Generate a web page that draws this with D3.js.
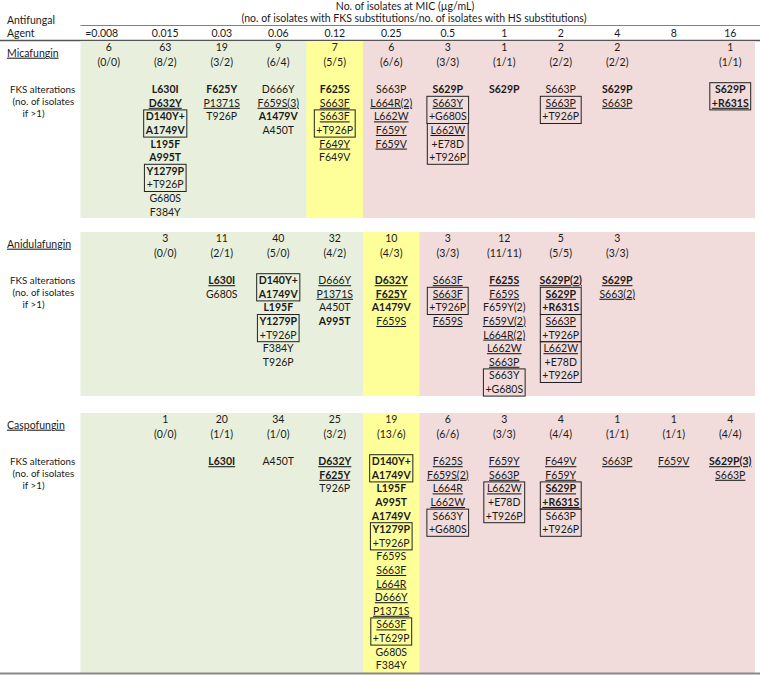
<!DOCTYPE html>
<html><head><meta charset="utf-8">
<script src="https://cdn.jsdelivr.net/npm/d3@7"></script>
<style>
body{margin:0;background:#fff;}
svg{display:block;font-family:Lato,"Open Sans",sans-serif;}
</style></head><body><svg id="c" width="760" height="675"></svg>
<script>
// ---------- data ----------
const micLabels = ["=0.008","0.015","0.03","0.06","0.12","0.25","0.5","1","2","4","8","16"];
const agents = ["Micafungin","Anidulafungin","Caspofungin"];
const intermediateMIC = ["0.12","0.25","0.25"];

const micafunginCounts = [6,63,19,9,7,6,3,1,2,2,null,1];
const micafunginRatios = ["0/0","8/2","3/2","6/4","5/5","6/6","3/3","1/1","2/2","2/2",null,"1/1"];
const anidulafunginCounts = [null,3,11,40,32,10,3,12,5,3,null,null];
const anidulafunginRatios = [null,"0/0","2/1","5/0","4/2","4/3","3/3","11/11","5/5","3/3",null,null];
const caspofunginCounts = [null,1,20,34,25,19,6,3,4,1,1,4];
const caspofunginRatios = [null,"0/0","1/1","1/0","3/2","13/6","6/6","3/3","4/4","1/1","1/1","4/4"];

// markers: "^" = bold, "_" = underlined ; nested array = boxed combination
const micafunginAlterations = [
  [],
  ["^L630I","^_D632Y",["^D140Y+","^A1749V"],"^L195F","^A995T",["^Y1279P","+T926P"],"G680S","F384Y"],
  ["^F625Y","_P1371S","T926P"],
  ["D666Y","_F659S(3)","^A1479V","A450T"],
  ["^F625S","_S663F",["_S663F","+T926P"],"_F649Y","F649V"],
  ["S663P","_L664R(2)","_L662W","_F659Y","_F659V"],
  ["^S629P",["_S663Y","+G680S"],["_L662W","+E78D","+T926P"]],
  ["^S629P"],
  ["S663P",["_S663P","+T926P"]],
  ["^S629P","_S663P"],
  [],
  [["^S629P","^_+R631S"]]
];
const anidulafunginAlterations = [
  [],[],
  ["^_L630I","G680S"],
  [["^D140Y+","^A1749V"],"^L195F",["^Y1279P","+T926P"],"F384Y","T926P"],
  ["_D666Y","_P1371S","A450T","^A995T"],
  ["^_D632Y","^_F625Y","^A1479V","_F659S"],
  ["_S663F",["_S663F","+T926P"],"_F659S"],
  ["^_F625S","_F659S","F659Y(2)","_F659V(2)","_L664R(2)","_L662W","_S663P",["S663Y","+G680S"]],
  ["^_S629P(2)",["^_S629P","^+R631S"],["_S663P","+T926P"],["_L662W","+E78D","+T926P"]],
  ["^_S629P","_S663(2)"],
  [],[]
];
const caspofunginAlterations = [
  [],[],
  ["^_L630I"],
  ["A450T"],
  ["^_D632Y","^_F625Y","T926P"],
  [["^D140Y+","^A1749V"],"^L195F","^A995T","^A1749V",["^Y1279P","+T926P"],"F659S","_S663F","_L664R","_D666Y","_P1371S",["_S663F","+T629P"],"G680S","F384Y"],
  ["_F625S","_F659S(2)","_L664R","_L662W",["S663Y","+G680S"]],
  ["_F659Y","_S663P",["_L662W","+E78D","+T926P"]],
  ["_F649V","_F659Y",["^_S629P","^_+R631S"],["S663P","+T926P"]],
  ["_S663P"],
  ["_F659V"],
  ["^_S629P(3)","_S663P"]
];

const counts = [micafunginCounts, anidulafunginCounts, caspofunginCounts];
const ratios = [micafunginRatios, anidulafunginRatios, caspofunginRatios];
const alterations = [micafunginAlterations, anidulafunginAlterations, caspofunginAlterations];

// ---------- layout ----------
const svg = d3.select("#c");
const W = 760;
const textColor = "#1a1a1a";
const fs = 10.5;
const sectionTop = [41, 232, 413];
const sectionBottom = [218, 396, 673];
const bgRight = 755;
const lineStep = 13.6;
const colors = {below:"#e8f0dd", at:"#ffff99", above:"#f2dcdb"};

const x = d3.scaleBand().domain(micLabels).range([80.5, 758.5]);
const cx = d => x(d) + x.bandwidth()/2;

// header
svg.append("text").attr("x",405).attr("y",6).attr("dy","0.35em").attr("text-anchor","middle")
  .attr("font-size",fs).attr("fill",textColor).text("No. of isolates at MIC (µg/mL)");
svg.append("text").attr("x",414).attr("y",18).attr("dy","0.35em").attr("text-anchor","middle")
  .attr("font-size",fs).attr("fill",textColor)
  .text("(no. of isolates with FKS substitutions/no. of isolates with HS substitutions)");
svg.append("text").attr("x",7).attr("y",20).attr("dy","0.35em").attr("font-size",fs).attr("fill",textColor).text("Antifungal");
svg.append("text").attr("x",7).attr("y",33).attr("dy","0.35em").attr("font-size",fs).attr("fill",textColor).text("Agent");
svg.append("line").attr("x1",80.5).attr("x2",W).attr("y1",25.5).attr("y2",25.5).attr("stroke","#808080").attr("stroke-width",1);

const axis = d3.axisBottom(x).tickSize(0).tickPadding(0);
const ag = svg.append("g").attr("transform","translate(0,33)").call(axis);
ag.select(".domain").remove();
ag.selectAll("text").attr("dy","0.35em").attr("y",0).attr("font-size",fs).attr("fill",textColor)
  .attr("font-family","Lato,'Open Sans',sans-serif");
ag.selectAll(".tick").filter(d => d === "=0.008").select("text").attr("x",-7);

svg.append("line").attr("x1",0).attr("x2",W).attr("y1",40.5).attr("y2",40.5).attr("stroke","#555").attr("stroke-width",1.5);

function parse(s){
  let b=false,u=false;
  while(s[0]==="^"||s[0]==="_"){ if(s[0]==="^") b=true; else u=true; s=s.slice(1); }
  return {t:s,b,u};
}

agents.forEach((agent, ai) => {
  const top = sectionTop[ai], bot = sectionBottom[ai];
  const bp = micLabels.indexOf(intermediateMIC[ai]);
  const g = svg.append("g");
  // backgrounds
  g.selectAll("rect.bg").data(micLabels).join("rect").attr("class","bg")
    .attr("x", d => x(d))
    .attr("width", d => Math.min(x(d)+x.bandwidth()+0.5, bgRight) - x(d))
    .attr("y", top).attr("height", bot-top)
    .attr("fill", (d,i) => i<bp ? colors.below : i===bp ? colors.at : colors.above);
  // labels
  g.append("text").attr("x",7).attr("y",top+12).attr("dy","0.35em").attr("font-size",fs)
    .attr("fill",textColor).style("text-decoration","underline").text(agent);
  const lbl = ["FKS alterations","(no. of isolates","if >1)"];
  const lx = [10,12.5,22.5];
  lbl.forEach((t,i)=> g.append("text").attr("x",lx[i]).attr("y",top+48.5+i*12).attr("dy","0.35em")
    .attr("font-size",9.8).attr("fill",textColor).text(t));
  // counts
  micLabels.forEach((m,ci) => {
    if(counts[ai][ci]!=null){
      g.append("text").attr("x",cx(m)).attr("y",top+6.5).attr("dy","0.35em").attr("text-anchor","middle")
        .attr("font-size",fs).attr("fill",textColor).text(counts[ai][ci]);
    }
    if(ratios[ai][ci]!=null){
      g.append("text").attr("x",cx(m)).attr("y",top+21).attr("dy","0.35em").attr("text-anchor","middle")
        .attr("font-size",fs).attr("fill",textColor).text("("+ratios[ai][ci]+")");
    }
    // alterations
    let li = 0;
    const y0 = top + 48.5;
    alterations[ai][ci].forEach(item => {
      const group = Array.isArray(item) ? item : [item];
      const startLi = li;
      let maxW = 0;
      group.forEach(s => {
        const p = parse(s);
        const t = g.append("text").attr("x",cx(m)).attr("y",y0+li*lineStep).attr("dy","0.35em")
          .attr("text-anchor","middle").attr("font-size",fs).attr("fill",textColor)
          .attr("font-weight",p.b?"bold":"normal")
          .style("text-decoration",p.u?"underline":"none").text(p.t);
        maxW = Math.max(maxW, t.node().getComputedTextLength());
        li++;
      });
      if(Array.isArray(item)){
        g.append("rect").attr("x",cx(m)-maxW/2-2).attr("width",maxW+4)
          .attr("y",y0+startLi*lineStep-6.8).attr("height",group.length*lineStep)
          .attr("fill","none").attr("stroke","#222").attr("stroke-width",1);
      }
    });
  });
});

svg.append("line").attr("x1",0).attr("x2",W).attr("y1",673.5).attr("y2",673.5).attr("stroke","#888").attr("stroke-width",2);
</script></body></html>
